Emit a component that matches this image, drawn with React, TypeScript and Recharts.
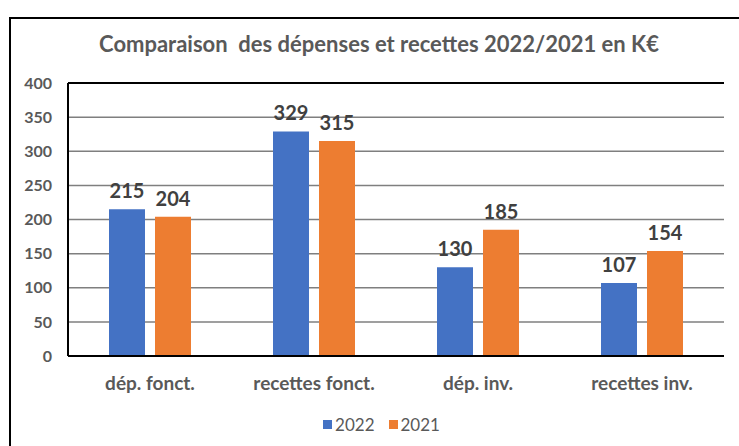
import React from 'react'
import {
  BarChart,
  Bar,
  XAxis,
  YAxis,
  CartesianGrid,
  LabelList,
  ReferenceLine,
} from 'recharts'

const categories = ['dép. fonct.', 'recettes fonct.', 'dép. inv.', 'recettes inv.']
const values2022 = [215, 329, 130, 107]
const values2021 = [204, 315, 185, 154]
const yTicks = [0, 50, 100, 150, 200, 250, 300, 350, 400]
const seriesNames = ['2022', '2021']

const data = categories.map((name, i) => ({
  name,
  y2022: values2022[i],
  y2021: values2021[i],
}))

const FONT = 'Lato, "Open Sans", sans-serif'
const BLUE = '#4472C4'
const ORANGE = '#ED7D31'
const COLORS = [BLUE, ORANGE]

const LegendBox = () => (
  <div
    style={{
      position: 'absolute',
      left: 0,
      top: 414,
      width: 739,
      display: 'flex',
      justifyContent: 'center',
      alignItems: 'center',
      gap: 14,
      fontFamily: FONT,
      fontSize: 17,
      color: '#595959',
      paddingLeft: 24,
      boxSizing: 'border-box',
    }}
  >
    {seriesNames.map((s, i) => (
      <span key={s} style={{ display: 'flex', alignItems: 'center', gap: 3 }}>
        <span style={{ width: 9, height: 9, background: COLORS[i], display: 'inline-block' }} />
        {s}
      </span>
    ))}
  </div>
)

export default function App() {
  return (
    <div
      style={{
        position: 'absolute',
        left: 0,
        top: 0,
        width: 739,
        height: 446,
        overflow: 'hidden',
        background: '#fff',
      }}
    >
      {/* outer frame, cut off on the right and bottom like the screenshot */}
      <div
        style={{
          position: 'absolute',
          left: 9,
          top: 17,
          width: 780,
          height: 480,
          border: '2px solid #000',
        }}
      />
      <div
        style={{
          position: 'absolute',
          left: 0,
          top: 30,
          width: 758,
          textAlign: 'center',
          fontFamily: FONT,
          fontSize: 22,
          fontWeight: 700,
          color: '#595959',
        }}
      >
        Comparaison&nbsp; des dépenses et recettes 2022/2021 en K€
      </div>
      <BarChart
        width={739}
        height={446}
        data={data}
        margin={{ top: 83, right: 15, left: 0, bottom: 60 }}
        barSize={36}
        barGap={10}
        style={{ position: 'absolute', left: 0, top: 0 }}
      >
        <CartesianGrid vertical={false} stroke="#7f7f7f" strokeWidth={1.5} />
        <XAxis
          dataKey="name"
          height={30}
          axisLine={{ stroke: '#000', strokeWidth: 2 }}
          tickLine={false}
          tickSize={0}
          tickMargin={21}
          tick={{ fill: '#595959', fontSize: 19, fontWeight: 700, fontFamily: FONT }}
        />
        <YAxis
          width={68}
          domain={[0, 400]}
          ticks={yTicks}
          axisLine={{ stroke: '#000', strokeWidth: 2 }}
          tickLine={false}
          tickSize={0}
          tickMargin={16}
          tick={{ fill: '#595959', fontSize: 16, fontWeight: 700, fontFamily: FONT }}
        />
        <YAxis
          yAxisId="frame"
          orientation="right"
          width={0}
          domain={[0, 400]}
          tick={false}
          tickLine={false}
          axisLine={{ stroke: '#000', strokeWidth: 2 }}
        />
        <ReferenceLine y={400} stroke="#000" strokeWidth={2} />
        <Bar dataKey="y2022" name="2022" fill={BLUE} isAnimationActive={false}>
          <LabelList
            dataKey="y2022"
            position="top"
            offset={11}
            fill="#404040"
            fontSize={20}
            fontWeight={700}
            fontFamily={FONT}
          />
        </Bar>
        <Bar dataKey="y2021" name="2021" fill={ORANGE} isAnimationActive={false}>
          <LabelList
            dataKey="y2021"
            position="top"
            offset={11}
            fill="#404040"
            fontSize={20}
            fontWeight={700}
            fontFamily={FONT}
          />
        </Bar>
      </BarChart>
      <LegendBox />
    </div>
  )
}
